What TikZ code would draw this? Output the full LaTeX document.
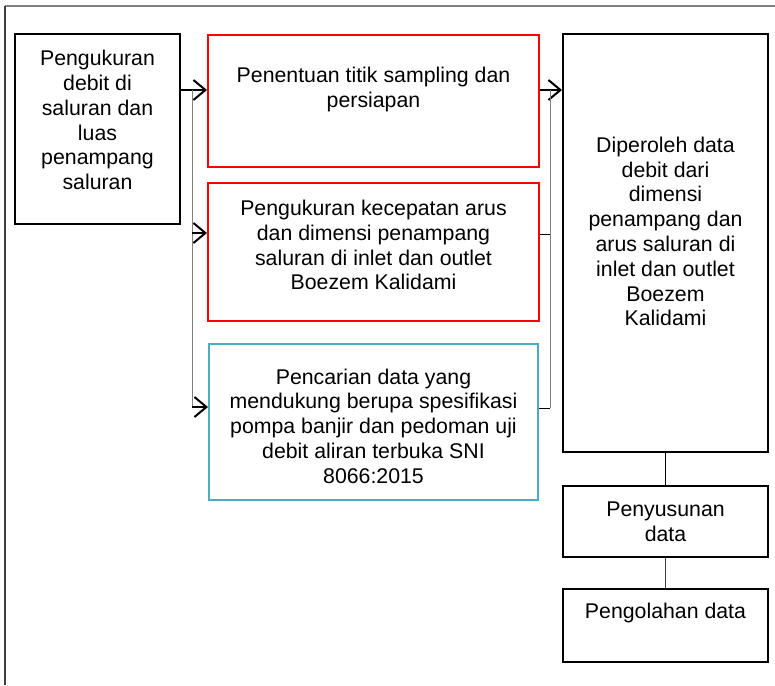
\documentclass[tikz,border=0pt]{standalone}
\usepackage{fontspec}
\setmainfont{Liberation Sans}
\usetikzlibrary{arrows.meta}
\definecolor{birulaut}{RGB}{75,172,198}
\begin{document}
\begin{tikzpicture}
			[x=1pt, y=-1pt,
			kotak/.style ={rectangle, draw=black, line width=2pt, inner sep=0pt},
			merah/.style ={kotak, draw=red},
			biru/.style ={kotak, draw=birulaut},
			teks/.style ={align=center, inner sep=0pt, font=\fontsize{21.3}{24.8}\selectfont},
			panah/.style ={-{Straight Barb[length=12pt,width=20pt]}, line width=2pt},
			cabang/.style ={line width=1pt, draw=gray}]
			\useasboundingbox (0,0) rectangle (775,685);
			\draw[line width=1.5pt, gray] (775,6) -- (5,6);
			\draw[line width=1.5pt, darkgray] (5,6) -- (5,685);

			\node[kotak, minimum width=165, minimum height=190] (ukur) at (97.5,129) {};
			\node[merah, minimum width=331, minimum height=132] (tentu) at (373.5,101) {};
			\node[merah, minimum width=331, minimum height=138] (arus) at (373.5,252) {};
			\node[biru, minimum width=329, minimum height=156] (cari) at (373.5,422) {};
			\node[kotak, minimum width=205, minimum height=418] (hasil) at (665.5,243) {};
			\node[kotak, minimum width=205, minimum height=71] (susun) at (665.5,521.5) {};
			\node[kotak, minimum width=205, minimum height=73] (olah) at (665.5,625.5) {};

			\node[teks] (ukurT) at (97.5,120) {Pengukuran\\debit di\\saluran dan\\luas\\penampang\\saluran};
			\node[teks] (tentuT) at (373.5,89.5) {Penentuan titik sampling dan\\persiapan};
			\node[teks] (arusT) at (373.5,245) {Pengukuran kecepatan arus\\dan dimensi penampang\\saluran di inlet dan outlet\\Boezem Kalidami};
			\node[teks] (cariT) at (373.5,426) {Pencarian data yang\\mendukung berupa spesifikasi\\pompa banjir dan pedoman uji\\debit aliran terbuka SNI\\8066:2015};
			\node[teks] (hasilT) at (665.5,231.5) {Diperoleh data\\debit dari\\dimensi\\penampang dan\\arus saluran di\\inlet dan outlet\\Boezem\\Kalidami};
			\node[teks] (susunT) at (665.5,522) {Penyusunan\\data};
			\node[teks] (olahT) at (665.5,613) {Pengolahan data};

			\coordinate (k1) at (192,90);
			\coordinate (k2) at (192,233);
			\coordinate (k3) at (192,407);
			\coordinate (n1) at (550,90);
			\coordinate (n2) at (550,234);
			\coordinate (n3) at (550,408);

			\draw[panah] (ukur.east |- k1) -- (tentu.west |- k1);
			\draw[cabang] (k1) -- (k3);
			\draw[panah] (k2) -- (arus.west |- k2);
			\draw[panah] (k3) -- (cari.west |- k3);

			\draw[panah] (tentu.east |- n1) -- (hasil.west |- n1);
			\draw[cabang] (n1) -- (n3);
			\draw[line width=1pt] (arus.east |- n2) -- (n2);
			\draw[line width=1pt] (cari.east |- n3) -- (n3);

			\draw[line width=1pt] (hasil) -- (susun);
			\draw[line width=1pt, darkgray] (susun) -- (olah);
		\end{tikzpicture}
\end{document}
